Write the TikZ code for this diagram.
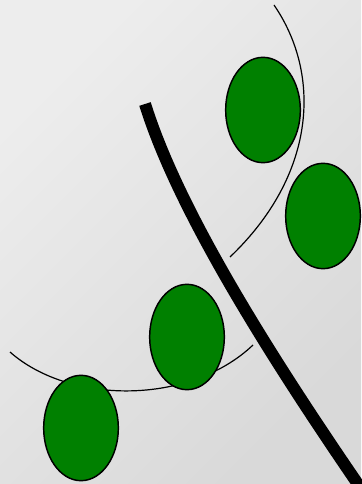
\documentclass[tikz,border=0pt]{standalone}
\usetikzlibrary{shapes.geometric}
\definecolor{leafgreen}{RGB}{0,128,0}

\begin{document}
\begin{tikzpicture}[
    x=0.75pt, y=-0.75pt,
    leaf/.style={draw, ellipse, fill=leafgreen, line width=1.1pt,
                 minimum width=56pt, minimum height=79pt, inner sep=0pt},
    twig/.style={line width=0.9pt},
    stem/.style={line width=9pt}
]
\useasboundingbox (0,0) rectangle (361,484);
\shade[top color=black!7, bottom color=black!15, shading angle=45]
    (0,0) rectangle (361,484);

\coordinate (upA) at (274,5);
\coordinate (upB) at (230,257);
\coordinate (loA) at (10,352);
\coordinate (loB) at (253,345);
\coordinate (stTop) at (145,104);
\coordinate (stBot) at (362,490);

\draw[twig] (upA) .. controls (322,75) and (316,175) .. (upB);
\draw[twig] (loA) .. controls (70,405) and (190,405) .. (loB);
\draw[stem] (stTop) .. controls (175,200) and (252,330) .. (stBot);

\node[leaf] (leaf1) at (263,110) {};
\node[leaf] (leaf2) at (323,216) {};
\node[leaf] (leaf3) at (187,337) {};
\node[leaf] (leaf4) at (81,428) {};
\end{tikzpicture}
\end{document}
